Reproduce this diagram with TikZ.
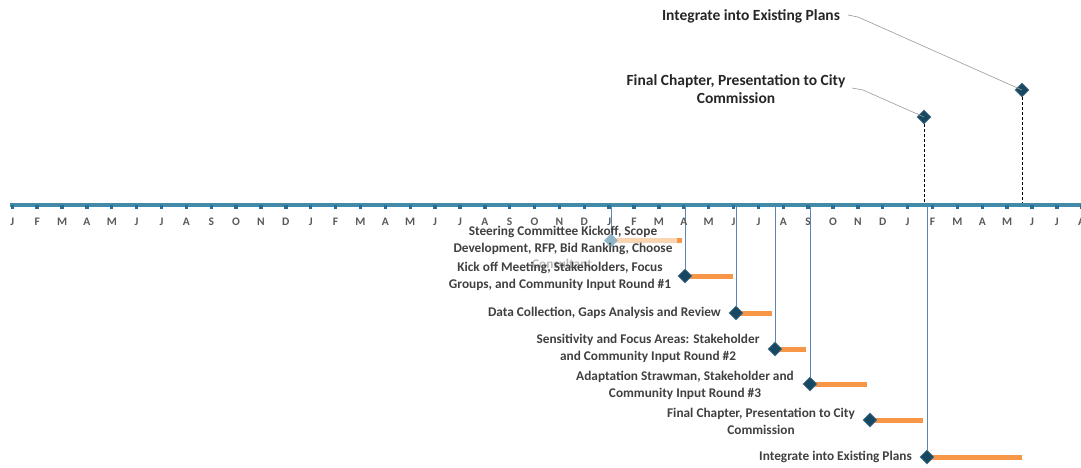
\documentclass[tikz,border=0pt]{standalone}
\usepackage{fontspec}
\setmainfont{Carlito}
\usetikzlibrary{shapes.geometric,backgrounds}
\definecolor{axisblue}{HTML}{428BA8}
\definecolor{tickblue}{HTML}{2A6F93}
\definecolor{msnavy}{HTML}{174862}
\definecolor{msfaded}{HTML}{8FB5C9}
\definecolor{barorange}{HTML}{F79646}
\definecolor{barfaded}{HTML}{FBD4B4}
\definecolor{linkblue}{HTML}{5B84B8}
\definecolor{labelgray}{HTML}{404040}
\definecolor{monthgray}{HTML}{595959}
\definecolor{headtext}{HTML}{262626}
\tikzset{
  milestone/.style={diamond, fill=msnavy, draw=msnavy!75!white, line width=0.6pt,
    minimum size=14pt, inner sep=0pt},
  taskbar/.style={barorange, line width=5pt},
  drop/.style={linkblue, line width=0.8pt},
  stem/.style={black, line width=0.6pt, dash pattern=on 3pt off 2pt},
  leader/.style={gray!80, line width=0.6pt},
  tasklabel/.style={font=\fontsize{13.3}{17}\selectfont\bfseries, text=labelgray,
    align=center, inner sep=0pt},
  headlabel/.style={font=\fontsize{15.5}{18}\selectfont\bfseries, text=headtext,
    align=center, inner sep=0pt},
  monthlabel/.style={font=\fontsize{11.5}{12}\selectfont\bfseries, text=monthgray, inner sep=0pt},
}
\begin{document}
\begin{tikzpicture}[x=1pt,y=-1pt]
\useasboundingbox (0,0) rectangle (1081,467);

% time axis
\coordinate (axtop) at (0,203);
\coordinate (axbot) at (0,207);
\fill[axisblue] (10,203) rectangle (1081,207);
\foreach \m [count=\i from 0] in {J,F,M,A,M,J,J,A,S,O,N,D,J,F,M,A,M,J,J,A,S,O,N,D,J,F,M,A,M,J,J,A,S,O,N,D,J,F,M,A,M,J,J,A}{
  \pgfmathsetmacro{\mx}{12.3+24.87*\i}
  \fill[tickblue] (\mx-1.7,205) rectangle (\mx+1.7,208.5);
  \node[monthlabel] (m\i) at (\mx,222) {\m};
}

% milestones above the axis
\node[milestone] (ufinal) at (924,117) {};
\node[milestone] (uinteg) at (1022,90) {};
\node[headlabel] (ufinaltxt) at (736,89) {Final Chapter, Presentation to City\\Commission};
\node[headlabel] (uintegtxt) at (751,16) {Integrate into Existing Plans};
\begin{scope}[on background layer]
  \draw[stem] (ufinal.south) -- (ufinal |- axtop);
  \draw[stem] (uinteg.south) -- (uinteg |- axtop);
\end{scope}
\draw[leader] (852,88) -- (863,90) -- (ufinal.center);
\draw[leader] (848,15) -- (858,17) -- (uinteg.center);

% tasks below the axis
\node[diamond, fill=msfaded, minimum size=14pt, inner sep=0pt] (t1) at (611,240.5) {};
\node[milestone] (t2) at (685,276) {};
\node[milestone] (t3) at (736,313) {};
\node[milestone] (t4) at (775,349) {};
\node[milestone] (t5) at (810,384) {};
\node[milestone] (t6) at (870,420) {};
\node[milestone] (t7) at (927,457) {};

\begin{scope}[on background layer]
  \draw[drop] (t1 |- axbot) -- (t1.north);
  \draw[drop] (t2 |- axbot) -- (t2.north);
  \draw[drop] (t3 |- axbot) -- (t3.north);
  \draw[drop] (t4 |- axbot) -- (t4.north);
  \draw[drop] (t5 |- axbot) -- (t5.north);
  \draw[drop] (t7 |- axbot) -- (t7.north);
  \draw[barfaded, line width=5pt] (t1.center) -- ++(66,0) coordinate (t1end);
  \draw[taskbar] (t1end) -- ++(5,0);
  \draw[taskbar] (t2.center) -- ++(48,0);
  \draw[taskbar] (t3.center) -- ++(36,0);
  \draw[taskbar] (t4.center) -- ++(31,0);
  \draw[taskbar] (t5.center) -- ++(57,0);
  \draw[taskbar] (t6.center) -- ++(53,0);
  \draw[taskbar] (t7.center) -- ++(95,0);
\end{scope}

\node[tasklabel, text=gray!55] (l1c) at (562,264) {Consultant};
\node[tasklabel] (l1) at (563,240) {Steering Committee Kickoff, Scope\\Development, RFP, Bid Ranking, Choose};
\node[tasklabel] (l2) at (560,276.5) {Kick off Meeting, Stakeholders, Focus\\Groups, and Community Input Round \#1};
\node[tasklabel, anchor=east] (l3) at (721,313) {Data Collection, Gaps Analysis and Review};
\node[tasklabel] (l4) at (648,348.5) {Sensitivity and Focus Areas: Stakeholder\\and Community Input Round \#2};
\node[tasklabel] (l5) at (685,385) {Adaptation Strawman, Stakeholder and\\Community Input Round \#3};
\node[tasklabel] (l6) at (761,421) {Final Chapter, Presentation to City\\Commission};
\node[tasklabel, anchor=east] (l7) at (912,457) {Integrate into Existing Plans};
\end{tikzpicture}
\end{document}
